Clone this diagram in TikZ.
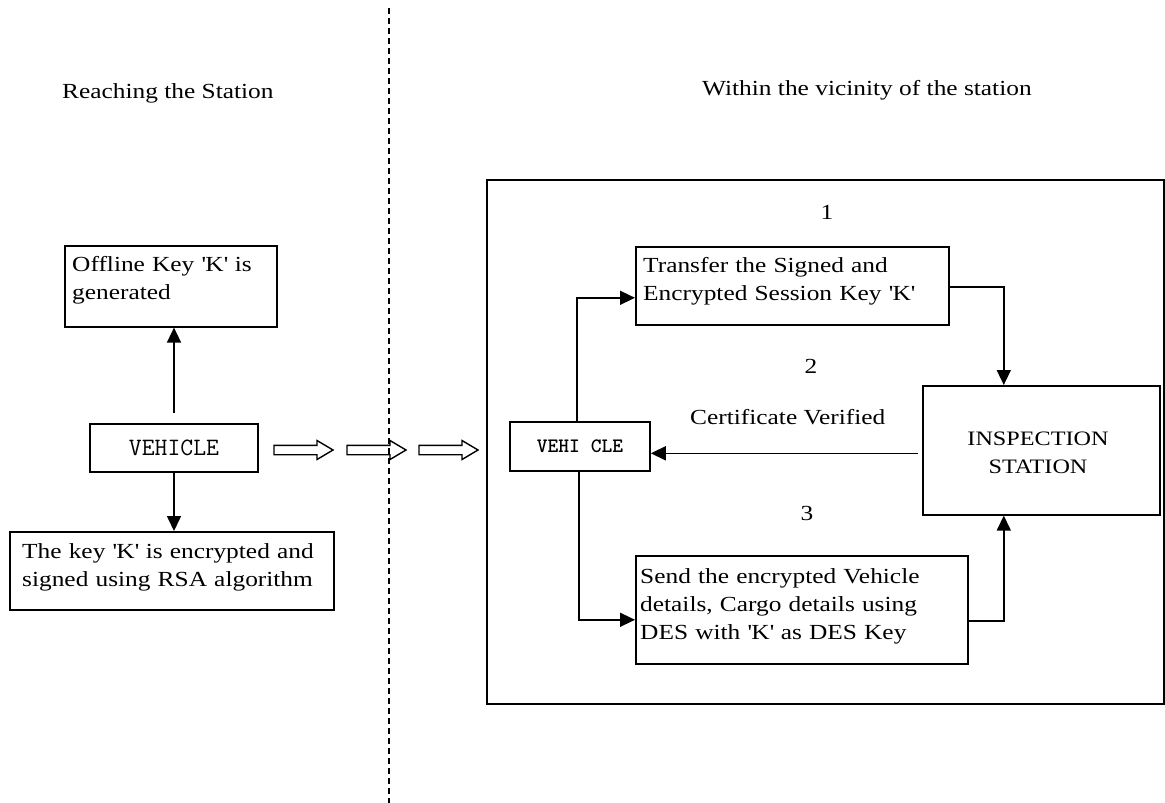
\documentclass[tikz,border=0pt]{standalone}
\usepackage{fontspec}
\setmainfont{Liberation Serif}[FakeStretch=1.18]
\usetikzlibrary{arrows.meta}
\newcommand{\sq}{\textquotesingle}
\begin{document}
\begin{tikzpicture}[x=1pt,y=-1pt,
  box/.style={draw, line width=1.6pt, inner sep=0pt, anchor=north west},
  txt/.style={inner sep=0pt, anchor=base west, text width=420pt, align=left, font=\fontsize{21.5}{28}\selectfont},
  lbl/.style={inner sep=0pt, font=\fontsize{21.5}{28}\selectfont},
  arr/.style={line width=1.6pt, -{Triangle[length=15pt,width=14pt]}},
  hollow/.style={line width=1.4pt, line join=miter},
  divider/.style={line width=1.5pt, dash pattern=on 6pt off 4pt}]
\useasboundingbox (0,0) rectangle (1165,803);
% divider
\coordinate (dtop) at (389,8);
\coordinate (dbot) at (389,803);
\draw[divider] (dtop) -- (dbot);
% headings
\node[lbl, anchor=base west] (h1) at (62,98) {Reaching the Station};
\node[lbl, anchor=base west] (h2) at (702,95) {Within the vicinity of the station};
% left side
\node[box, minimum width=212pt, minimum height=81pt] (offline) at (64,245) {};
\node[txt] (offlinet) at (72,271) {Offline Key \sq K\sq{} is\\generated};
\node[box, minimum width=168pt, minimum height=48pt, anchor=center,
      font=\ttfamily\fontsize{25}{28}\selectfont] (veh1) at (174,448) {VEHICLE};
\node[box, minimum width=324pt, minimum height=78pt] (rsa) at (9,531) {};
\node[txt] (rsat) at (22,558) {The key \sq K\sq{} is encrypted and\\signed using RSA algorithm};
\draw[arr] ([yshift=10pt]veh1.north) -- (offline.south -| veh1.north);
\draw[arr] (veh1.south) -- (rsa.north -| veh1.south);
% hollow arrows
\foreach \x in {274,347,419}{
  \draw[hollow] (\x,445.3) -- ({\x+43},445.3) -- ({\x+43},440.5) -- ({\x+59},450)
     -- ({\x+43},459.5) -- ({\x+43},454.7) -- (\x,454.7) -- cycle;
}
% right frame
\node[box, minimum width=677pt, minimum height=524pt] (frame) at (486,179) {};
\node[lbl] (n1) at (827,212) {1};
\node[lbl] (n2) at (811,366) {2};
\node[lbl] (n3) at (807,513) {3};
\node[box, minimum width=313pt, minimum height=78pt] (transfer) at (635,246) {};
\node[txt] (transfert) at (643,272) {Transfer the Signed and\\Encrypted Session Key \sq K\sq};
\node[box, minimum width=237pt, minimum height=129pt] (station) at (922,385) {};
\node[txt, anchor=base, text width=236pt, align=center, font=\fontsize{20.5}{28}\selectfont] (stationt) at (1038,445) {INSPECTION\\STATION};
\node[box, minimum width=140pt, minimum height=49pt, anchor=center,
      font=\ttfamily\bfseries\fontsize{20.5}{24}\selectfont] (veh2) at (580,446.5) {VEHI CLE};
\node[box, minimum width=332pt, minimum height=108pt] (send) at (635,555) {};
\node[txt] (sendt) at (640,583) {Send the encrypted Vehicle\\details, Cargo details using\\DES with \sq K\sq{} as DES Key};
\node[lbl, anchor=base west] (cert) at (690,424) {Certificate Verified};
% connectors
\coordinate (stTop) at ([xshift=-37.5pt]station.north);
\coordinate (stBot) at ([xshift=-37.5pt]station.south);
\draw[arr] ([xshift=-3pt]veh2.north) |- ([yshift=-12pt]transfer.west);
\draw[arr] ([yshift=-1pt]transfer.east) -| (stTop);
\draw[arr] ([xshift=-4pt,yshift=-3pt]station.west) -- ([yshift=-3pt]station.west -| veh2.east);
\draw[arr] ([xshift=-1pt]veh2.south) |- ([yshift=-10pt]send.west);
\draw[arr] ([yshift=-11pt]send.east) -| (stBot);
\end{tikzpicture}
\end{document}
